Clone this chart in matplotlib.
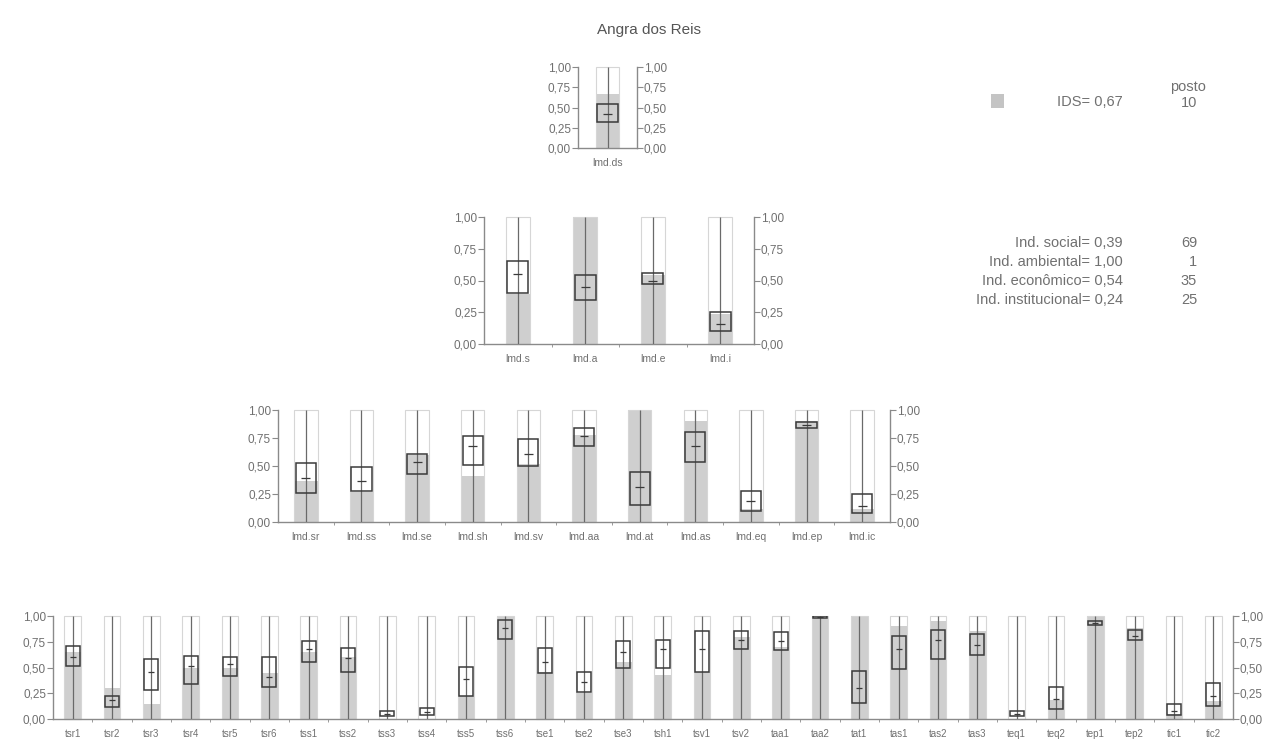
"""Angra dos Reis: sustainability index panels (bars + quartile boxes)."""

import matplotlib
matplotlib.use("Agg")
import matplotlib.pyplot as plt
from matplotlib.patches import Rectangle
from matplotlib.ticker import FuncFormatter, FixedLocator

# ==============================================================================
# DATA
# ==============================================================================

TITLE = "Angra dos Reis"

# Panel 1 - overall index
ds_labels = ["lmd.ds"]
ds_values = [0.67]
ds_q1 = [0.32]
ds_med = [0.42]
ds_q3 = [0.54]

# Panel 2 - dimensions
dim_labels = ["lmd.s", "lmd.a", "lmd.e", "lmd.i"]
dim_values = [0.39, 1.00, 0.54, 0.24]
dim_q1 = [0.40, 0.35, 0.47, 0.10]
dim_med = [0.55, 0.45, 0.50, 0.16]
dim_q3 = [0.65, 0.54, 0.56, 0.25]

# Panel 3 - themes
th_labels = ["lmd.sr", "lmd.ss", "lmd.se", "lmd.sh", "lmd.sv", "lmd.aa",
             "lmd.at", "lmd.as", "lmd.eq", "lmd.ep", "lmd.ic"]
th_values = [0.37, 0.27, 0.60, 0.41, 0.52, 0.78, 1.00, 0.90, 0.12, 0.90, 0.12]
th_q1 = [0.26, 0.28, 0.43, 0.51, 0.50, 0.68, 0.15, 0.54, 0.10, 0.84, 0.08]
th_med = [0.39, 0.37, 0.54, 0.68, 0.61, 0.77, 0.31, 0.68, 0.19, 0.87, 0.14]
th_q3 = [0.53, 0.49, 0.61, 0.77, 0.74, 0.84, 0.45, 0.80, 0.28, 0.89, 0.25]

# Panel 4 - indicators
ind_labels = ["tsr1", "tsr2", "tsr3", "tsr4", "tsr5", "tsr6",
              "tss1", "tss2", "tss3", "tss4", "tss5", "tss6",
              "tse1", "tse2", "tse3", "tsh1", "tsv1", "tsv2",
              "taa1", "taa2", "tat1", "tas1", "tas2", "tas3",
              "teq1", "teq2", "tep1", "tep2", "tic1", "tic2"]
ind_values = [0.65, 0.30, 0.15, 0.50, 0.50, 0.45,
              0.65, 0.60, 0.00, 0.00, 0.22, 1.00,
              0.46, 0.25, 0.55, 0.43, 0.46, 0.80,
              0.70, 1.00, 1.00, 0.90, 0.95, 0.85,
              0.00, 0.18, 1.00, 0.88, 0.05, 0.17]
ind_q1 = [0.51, 0.12, 0.28, 0.34, 0.42, 0.31,
          0.55, 0.46, 0.03, 0.04, 0.22, 0.78,
          0.45, 0.26, 0.50, 0.50, 0.46, 0.68,
          0.67, 0.98, 0.16, 0.49, 0.58, 0.62,
          0.03, 0.10, 0.91, 0.77, 0.04, 0.13]
ind_med = [0.60, 0.18, 0.46, 0.51, 0.53, 0.41,
           0.68, 0.59, 0.05, 0.07, 0.39, 0.88,
           0.55, 0.36, 0.65, 0.68, 0.68, 0.77,
           0.76, 0.99, 0.30, 0.68, 0.77, 0.72,
           0.05, 0.19, 0.93, 0.81, 0.08, 0.22]
ind_q3 = [0.71, 0.22, 0.58, 0.61, 0.60, 0.60,
          0.76, 0.69, 0.08, 0.11, 0.50, 0.96,
          0.69, 0.46, 0.76, 0.77, 0.85, 0.85,
          0.84, 1.00, 0.47, 0.81, 0.86, 0.83,
          0.08, 0.31, 0.95, 0.86, 0.15, 0.35]

# Side text
ids_text = "IDS= 0,67"
ids_rank = "10"
dim_text = ["Ind. social= 0,39", "Ind. ambiental= 1,00",
            "Ind. econômico= 0,54", "Ind. institucional= 0,24"]
dim_ranks = ["69", "1", "35", "25"]

# ==============================================================================
# STYLE
# ==============================================================================

W, H = 1271, 742
TEXT = "#707070"
AXIS = "#8a8a8a"
BAR = "#cfcfcf"
FRAME = "#d6d6d6"
STEM = "#6a6a6a"
BOX = "#3a3a3a"
SIDE_FS = 10.5

plt.rcParams.update({
    "font.family": ["Liberation Sans", "DejaVu Sans"],
    "font.size": 8,
})


def px_axes(fig, x0, x1, ytop, ybot):
    return fig.add_axes([x0 / W, 1 - ybot / H, (x1 - x0) / W, (ybot - ytop) / H])


def draw_panel(ax, labels, values, q1, med, q3, width, xfs=7.5):
    n = len(labels)
    xs = list(range(n))
    ax.bar(xs, values, width=width, color=BAR, zorder=1)
    for x in xs:
        ax.add_patch(Rectangle((x - width / 2, 0), width, 1, facecolor="none",
                               edgecolor=FRAME, lw=0.8, zorder=2, clip_on=False))
    ax.vlines(xs, 0, 1, color=STEM, lw=0.9, zorder=3)
    bw = width * 0.86
    for x, a, m, b in zip(xs, q1, med, q3):
        ax.add_patch(Rectangle((x - bw / 2, a), bw, b - a, facecolor="none",
                               edgecolor=BOX, lw=1.1, zorder=4))
        ax.hlines(m, x - bw * 0.22, x + bw * 0.22, color=BOX, lw=0.9, zorder=5)

    ax.set_xlim(-0.5, n - 0.5)
    ax.set_ylim(0, 1)
    ax.set_yticks([0, 0.25, 0.5, 0.75, 1.0])
    ax.yaxis.set_major_formatter(FuncFormatter(lambda v, _: f"{v:.2f}".replace(".", ",")))
    ax.set_xticks(xs)
    ax.set_xticklabels(labels, fontsize=xfs, color=TEXT)
    ax.xaxis.set_minor_locator(FixedLocator([i + 0.5 for i in range(n - 1)]))
    ax.tick_params(axis="x", which="major", length=0, pad=7)
    ax.tick_params(axis="x", which="minor", length=2, color=AXIS, width=0.6)
    ax.tick_params(axis="y", left=True, right=True, labelleft=True, labelright=True,
                   length=4, width=0.8, color=AXIS, labelcolor=TEXT, labelsize=8.5, pad=1)
    for side in ("left", "right", "bottom"):
        ax.spines[side].set_color(AXIS)
        ax.spines[side].set_linewidth(1.0)
    ax.spines["top"].set_visible(False)
    ax.set_facecolor("none")


fig = plt.figure(figsize=(W / 100, H / 100), dpi=100)
fig.text(649 / W, 1 - 30 / H, TITLE, ha="center", va="center", fontsize=11, color="#555555")

ax1 = px_axes(fig, 578, 637, 67, 148)
draw_panel(ax1, ds_labels, ds_values, ds_q1, ds_med, ds_q3, width=0.40)

ax2 = px_axes(fig, 484, 754, 217, 344)
draw_panel(ax2, dim_labels, dim_values, dim_q1, dim_med, dim_q3, width=0.36)

ax3 = px_axes(fig, 278, 890, 410, 522)
draw_panel(ax3, th_labels, th_values, th_q1, th_med, th_q3, width=0.42)

ax4 = px_axes(fig, 53, 1233, 616, 719)
draw_panel(ax4, ind_labels, ind_values, ind_q1, ind_med, ind_q3, width=0.42, xfs=7)

# Legend / side information
fig.patches.append(Rectangle((991 / W, 1 - 108 / H), 13 / W, 14 / H, transform=fig.transFigure,
                             facecolor="#c4c4c4", edgecolor="none"))
fig.text(1123 / W, 1 - 102 / H, ids_text, ha="right", va="center", fontsize=SIDE_FS, color=TEXT)
fig.text(1188 / W, 1 - 87 / H, "posto", ha="center", va="center", fontsize=SIDE_FS, color=TEXT)
fig.text(1197 / W, 1 - 103 / H, ids_rank, ha="right", va="center", fontsize=SIDE_FS, color=TEXT)
for i, (txt, rk) in enumerate(zip(dim_text, dim_ranks)):
    y = 243 + i * 19
    fig.text(1123 / W, 1 - y / H, txt, ha="right", va="center", fontsize=SIDE_FS, color=TEXT)
    fig.text(1197 / W, 1 - y / H, rk, ha="right", va="center", fontsize=SIDE_FS, color=TEXT)

fig.savefig("out.png", dpi=100)
